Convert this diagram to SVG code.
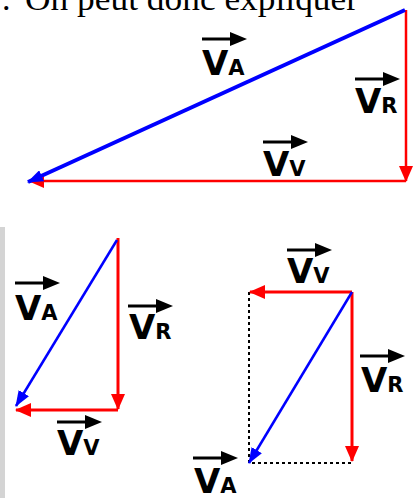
<svg xmlns="http://www.w3.org/2000/svg" xmlns:xlink="http://www.w3.org/1999/xlink" width="417" height="498" viewBox="0 0 417 498">
<style>
.lbl{font-family:"DejaVu Sans",Verdana,sans-serif;font-weight:bold;font-size:34px;fill:#000}
.sub{font-size:21px}
.blue{stroke:#0000ff;fill:none}
.red{stroke:#ff0000;fill:none}
.dash{stroke:#000;stroke-width:2;stroke-dasharray:3 3;fill:none}
</style>
<defs>
<marker id="hb" viewBox="0 0 16 12" refX="15" refY="6" markerWidth="16" markerHeight="12" markerUnits="userSpaceOnUse" orient="auto"><path d="M0,0 L16,6 L0,12 z" fill="#0000ff"/></marker>
<marker id="hr" viewBox="0 0 16 14" refX="15" refY="7" markerWidth="16" markerHeight="14" markerUnits="userSpaceOnUse" orient="auto"><path d="M0,0 L16,7 L0,14 z" fill="#ff0000"/></marker>
<g id="vec"><line x1="0" y1="0" x2="30" y2="0" stroke="#000" stroke-width="3"/><path d="M28,-7 L45,0 L28,7 z" fill="#000"/></g>
</defs>
<rect width="417" height="498" fill="#fff"/>
<text x="2" y="10" font-family="Liberation Serif,serif" font-size="34" fill="#000">.</text>
<text x="25" y="10" font-family="Liberation Serif,serif" font-size="34" textLength="333" lengthAdjust="spacingAndGlyphs" fill="#000">On peut donc expliquer</text>
<rect x="0" y="227" width="5" height="271" fill="#d4d4d4"/>

<g id="connectors">
  <line class="red" x1="406" y1="181" x2="29" y2="181" stroke-width="2.5" marker-end="url(#hr)"/>
  <line class="red" x1="406" y1="10" x2="406" y2="181" stroke-width="2.5" marker-end="url(#hr)"/>
  <line class="blue" x1="405" y1="10" x2="28" y2="182" stroke-width="4" marker-end="url(#hb)"/>
  <line class="red" x1="118" y1="238" x2="118" y2="409" stroke-width="3" marker-end="url(#hr)"/>
  <line class="red" x1="118" y1="410" x2="16" y2="410" stroke-width="3" marker-end="url(#hr)"/>
  <line class="blue" x1="117" y1="240" x2="16" y2="406" stroke-width="2.5" marker-end="url(#hb)"/>
  <polyline class="dash" points="249,292 249,463 352,463"/>
  <line class="red" x1="352" y1="292" x2="250" y2="292" stroke-width="3" marker-end="url(#hr)"/>
  <line class="red" x1="352" y1="292" x2="352" y2="461" stroke-width="3" marker-end="url(#hr)"/>
  <line class="blue" x1="352" y1="292" x2="249" y2="463" stroke-width="2.5" marker-end="url(#hb)"/>
</g>

<g id="top-VA"><use xlink:href="#vec" href="#vec" x="202" y="39"/><text class="lbl" x="202" y="75">V<tspan class="sub">A</tspan></text></g>
<g id="top-VR"><use xlink:href="#vec" href="#vec" x="355" y="79"/><text class="lbl" x="355" y="113">V<tspan class="sub">R</tspan></text></g>
<g id="top-VV"><use xlink:href="#vec" href="#vec" x="263" y="142"/><text class="lbl" x="263" y="176">V<tspan class="sub">V</tspan></text></g>

<g id="bl-VA"><use xlink:href="#vec" href="#vec" x="15" y="283"/><text class="lbl" x="15" y="320">V<tspan class="sub">A</tspan></text></g>
<g id="bl-VR"><use xlink:href="#vec" href="#vec" x="128" y="306"/><text class="lbl" x="129" y="339">V<tspan class="sub">R</tspan></text></g>
<g id="bl-VV"><use xlink:href="#vec" href="#vec" x="57" y="422"/><text class="lbl" x="57" y="455">V<tspan class="sub">V</tspan></text></g>

<g id="br-VV"><use xlink:href="#vec" href="#vec" x="287" y="250"/><text class="lbl" x="287" y="283">V<tspan class="sub">V</tspan></text></g>
<g id="br-VR"><use xlink:href="#vec" href="#vec" x="360" y="356"/><text class="lbl" x="361" y="392">V<tspan class="sub">R</tspan></text></g>
<g id="br-VA"><use xlink:href="#vec" href="#vec" x="193" y="458"/><text class="lbl" x="194" y="493">V<tspan class="sub">A</tspan></text></g>
</svg>
